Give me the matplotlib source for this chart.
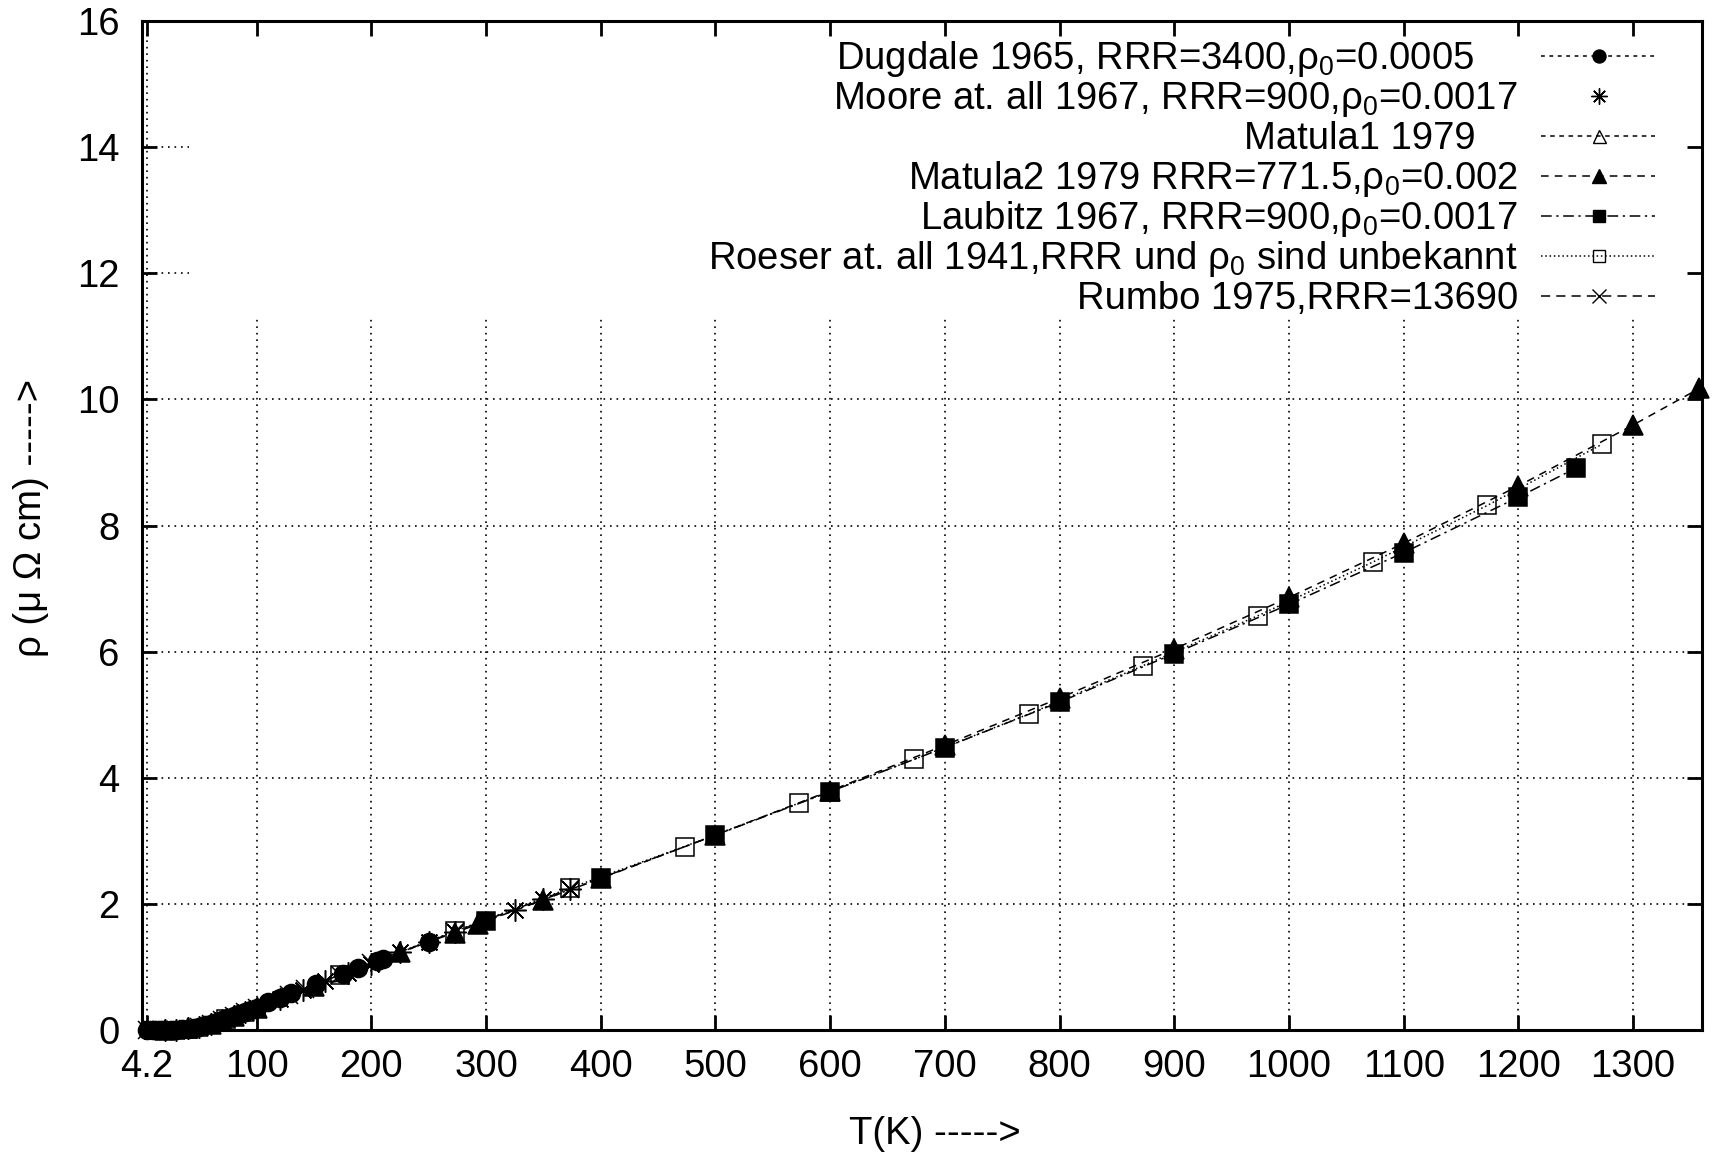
import matplotlib
matplotlib.use('Agg')
import matplotlib.pyplot as plt
from matplotlib.patches import Rectangle

plt.rcParams.update({
    'font.family': 'Liberation Sans',
    'font.size': 27.5,
    'mathtext.fontset': 'custom',
    'mathtext.rm': 'Liberation Sans',
    'mathtext.it': 'Liberation Sans:italic',
    'mathtext.bf': 'Liberation Sans:bold',
})

# data (T in K, rho in micro-Ohm cm)
dugdale_T = [4.2, 10, 15, 20, 25, 30, 35, 40, 45, 50, 55, 60, 65, 70, 75, 80, 85, 90, 95, 100,
             110, 120, 130, 152, 175, 188, 205, 210, 250]
dugdale_rho = [0.0005, 0.0006, 0.0009, 0.0015, 0.003, 0.007, 0.013, 0.024, 0.038, 0.054, 0.075,
               0.098, 0.126, 0.155, 0.186, 0.218, 0.251, 0.284, 0.318, 0.352,
               0.44, 0.51, 0.59, 0.73, 0.89, 0.98, 1.10, 1.12, 1.40]

moore_T = [20, 30, 40, 50, 60, 70, 80, 90, 100, 120, 140, 160, 180, 200, 225, 250, 273, 325, 350, 373]
moore_rho = [0.0017, 0.0075, 0.025, 0.053, 0.098, 0.156, 0.217, 0.283, 0.350, 0.49, 0.63, 0.77,
             0.91, 1.05, 1.24, 1.40, 1.56, 1.90, 2.08, 2.24]

matula1_T = [10, 20, 30, 40, 50, 60, 70, 80, 90, 100]
matula1_rho = [0.0002, 0.0008, 0.0063, 0.024, 0.052, 0.097, 0.154, 0.215, 0.281, 0.348]

matula2_T = [20, 40, 60, 80, 100, 150, 225, 273, 293, 350, 400, 500, 600, 700, 800, 900,
             1000, 1100, 1200, 1300, 1357.6]
matula2_rho = [0.0028, 0.026, 0.099, 0.217, 0.350, 0.701, 1.24, 1.545, 1.680, 2.065, 2.404,
               3.092, 3.794, 4.516, 5.264, 6.043, 6.860, 7.719, 8.628, 9.594, 10.173]

laubitz_T = [300, 400, 500, 600, 700, 800, 900, 1000, 1100, 1200, 1250]
laubitz_rho = [1.73, 2.41, 3.09, 3.78, 4.48, 5.20, 5.97, 6.75, 7.57, 8.45, 8.91]

roeser_T = [73, 173, 273, 373, 473, 573, 673, 773, 873, 973, 1073, 1173, 1273]
roeser_rho = [0.18, 0.88, 1.57, 2.25, 2.91, 3.60, 4.29, 5.01, 5.78, 6.57, 7.42, 8.32, 9.29]

rumbo_T = [4.2, 10, 15, 20, 25, 30, 40, 50, 60, 70, 80, 90, 100, 128, 142, 173, 200, 273, 373]
rumbo_rho = [0.0001, 0.0002, 0.0004, 0.0008, 0.0025, 0.0065, 0.024, 0.052, 0.097, 0.154, 0.215,
             0.28, 0.348, 0.55, 0.65, 0.87, 1.06, 1.56, 2.24]

labels = [
    'Dugdale 1965, RRR=3400,ρ$_0$=0.0005     ',
    'Moore at. all 1967, RRR=900,ρ$_0$=0.0017',
    'Matula1 1979    ',
    'Matula2 1979 RRR=771.5,ρ$_0$=0.002',
    'Laubitz 1967, RRR=900,ρ$_0$=0.0017',
    'Roeser at. all 1941,RRR und ρ$_0$ sind unbekannt',
    'Rumbo 1975,RRR=13690',
]

xticks = [4.2, 100, 200, 300, 400, 500, 600, 700, 800, 900, 1000, 1100, 1200, 1300]
xticklabels = ['4.2', '100', '200', '300', '400', '500', '600', '700', '800', '900',
               '1000', '1100', '1200', '1300']
yticks = [0, 2, 4, 6, 8, 10, 12, 14, 16]

series = [
    (dugdale_T, dugdale_rho, dict(marker='o', ls=(0, (2.5, 3)), ms=13, mfc='k')),
    (moore_T, moore_rho, dict(marker=(8, 2, 0), ls='none', ms=16, mfc='k')),
    (matula1_T, matula1_rho, dict(marker='^', ls=(0, (3, 3)), ms=13, mfc='none')),
    (matula2_T, matula2_rho, dict(marker='^', ls=(0, (5, 4)), ms=14, mfc='k')),
    (laubitz_T, laubitz_rho, dict(marker='s', ls=(0, (7, 3, 1.5, 3)), ms=12.5, mfc='k')),
    (roeser_T, roeser_rho, dict(marker='s', ls=(0, (1, 1.8)), ms=12.5, mfc='none')),
    (rumbo_T, rumbo_rho, dict(marker='x', ls=(0, (6, 4)), ms=13.5, mfc='k')),
]

fig = plt.figure(figsize=(17.27, 11.55), dpi=100)
ax = fig.add_axes([0.0822, 0.1082, 0.9033, 0.8736])

for x in xticks:
    ax.axvline(x, color='k', lw=1.2, ls=(0, (1, 2.9)), zorder=0.5)
for y in yticks[1:]:
    ax.axhline(y, color='k', lw=1.2, ls=(0, (1, 2.9)), zorder=0.5)

# opaque key area
ax.add_patch(Rectangle((0.030, 0.709), 0.97, 0.291, transform=ax.transAxes,
                       fc='white', ec='none', zorder=0.6))

for T, rho, st in series:
    ax.plot(T, rho, color='k', lw=1.1, mec='k', mew=1.1, clip_on=False, **st)

# key, gnuplot style: right aligned text, then the sample
key_top = 0.965
key_step = 40 / 1010
for i, ((T, rho, st), lab) in enumerate(zip(series, labels)):
    y = key_top - i * key_step
    ax.text(0.882, y - 0.0128, lab, transform=ax.transAxes, ha='right', va='baseline')
    if st['ls'] != 'none':
        ax.plot([0.897, 0.970], [y, y], transform=ax.transAxes, color='k', lw=1.1,
                ls=st['ls'], clip_on=False)
    ax.plot([0.934], [y], transform=ax.transAxes, color='k', ls='none', marker=st['marker'],
            ms=st['ms'] * 0.72, mfc=st['mfc'], mec='k', mew=1.0, clip_on=False)

ax.set_xlim(0, 1360)
ax.set_ylim(0, 16)
ax.set_xticks(xticks)
ax.set_xticklabels(xticklabels)
ax.set_yticks(yticks)
ax.tick_params(direction='in', length=10.5, width=2, top=True, right=True,
               labelsize=27.5)
ax.tick_params(axis='x', pad=14)
ax.tick_params(axis='y', pad=16)
for sp in ax.spines.values():
    sp.set_linewidth(2.2)

fig.text(935 / 1727, 1 - 1134 / 1155, 'T(K) ----->', ha='center', va='center')
fig.text(31 / 1727, 1 - 518 / 1155, 'ρ (μ Ω cm) ----->', ha='center', va='center',
         rotation=90)

fig.savefig('out.png', dpi=100, facecolor='white')
